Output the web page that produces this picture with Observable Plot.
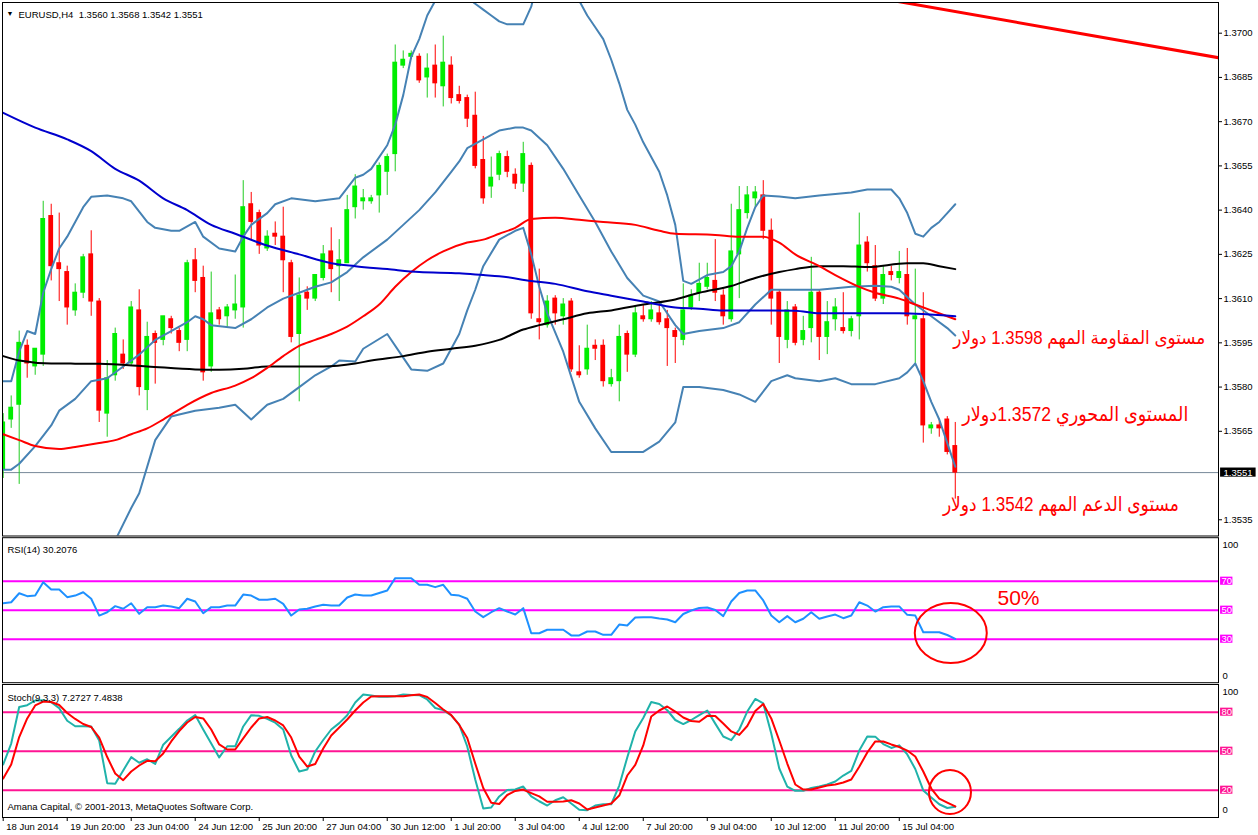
<!DOCTYPE html>
<html><head><meta charset="utf-8">
<script src="https://cdn.jsdelivr.net/npm/d3@7"></script>
<script src="https://cdn.jsdelivr.net/npm/@observablehq/plot@0.6"></script>
<style>
body{margin:0;background:#fff;}
#chart{position:relative;width:1258px;height:835px;background:#fff;overflow:hidden;}
#chart svg{position:absolute;left:0;overflow:visible;max-width:none;}
</style></head><body><div id="chart"></div>
<script>
// ---------- DATA ----------
const title = "EURUSD,H4\u00a0\u00a01.3560 1.3568 1.3542 1.3551";
const rsiTitle = "RSI(14) 30.2076";
const stochTitle = "Stoch(9,3,3) 7.2727 7.4838";
const copyright = "Amana Capital, \u00a9 2001-2013, MetaQuotes Software Corp.";

const open  = [1.3552,1.3569,1.3574,1.3594,1.3587,1.3591,1.3638,1.3622,1.3619,1.3606,
 1.3612,1.3625,1.3609,1.3571,1.3584,1.3591,1.3588,1.3606,1.3579,1.3598,
 1.3596,1.3603,1.3599,1.3596,1.3623,1.3617,1.3587,1.3606,1.3604,1.3606,
 1.3607,1.3642,1.3639,1.3627,1.3632,1.3631,1.3622,1.3598,1.3612,1.3610,
 1.3617,1.3626,1.3621,1.3622,1.3641,1.3643,1.3643,1.3645,1.3653,1.3659,
 1.3689,1.3692,1.3692,1.3685,1.3689,1.3682,1.3689,1.3679,1.3678,1.3672,
 1.3657,1.3648,1.3652,1.3658,1.3652,1.3649,1.3655,1.3603,1.3601,1.3610,
 1.3604,1.3609,1.3585,1.3586,1.3594,1.3594,1.3581,1.3582,1.3598,1.3591,
 1.3604,1.3603,1.3605,1.3603,1.3599,1.3596,1.3607,1.3612,1.3614,1.3616,
 1.3611,1.3603,1.3625,1.3639,1.3644,1.3645,1.3633,1.3612,1.3596,1.3607,
 1.3596,1.3600,1.3612,1.3597,1.3603,1.3600,1.3599,1.3604,1.3629,1.3621,
 1.3610,1.3619,1.3617,1.3618,1.3603,1.3603,1.3566,1.3567,1.3569,1.3560];
const high  = [1.3571,1.3577,1.3599,1.3596,1.3593,1.3643,1.3642,1.3639,1.3621,1.3615,
 1.3625,1.3633,1.3610,1.3589,1.3600,1.3596,1.3609,1.3613,1.3602,1.3599,
 1.3604,1.3604,1.3600,1.3623,1.3627,1.3621,1.3619,1.3607,1.3608,1.3618,
 1.3650,1.3646,1.3640,1.3633,1.3636,1.3641,1.3623,1.3617,1.3614,1.3618,
 1.3628,1.3634,1.3630,1.3645,1.3652,1.3647,1.3645,1.3656,1.3659,1.3696,
 1.3694,1.3694,1.3693,1.3693,1.3696,1.3699,1.3692,1.3682,1.3679,1.3680,
 1.3665,1.3658,1.3660,1.3660,1.3654,1.3663,1.3656,1.3620,1.3611,1.3611,
 1.3610,1.3610,1.3594,1.3601,1.3596,1.3596,1.3586,1.3601,1.3599,1.3607,
 1.3608,1.3609,1.3609,1.3606,1.3600,1.3615,1.3613,1.3622,1.3622,1.3630,
 1.3613,1.3642,1.3648,1.3648,1.3648,1.3650,1.3637,1.3613,1.3609,1.3608,
 1.3604,1.3624,1.3613,1.3609,1.3610,1.3612,1.3604,1.3639,1.3631,1.3628,
 1.3621,1.3621,1.3626,1.3627,1.3620,1.3612,1.3568,1.3569,1.3570,1.3568];
const low   = [1.3549,1.3566,1.3547,1.3583,1.3584,1.3587,1.3616,1.3609,1.3601,1.3604,
 1.3610,1.3604,1.3568,1.3563,1.3582,1.3586,1.3587,1.3577,1.3572,1.3581,
 1.3594,1.3598,1.3592,1.3592,1.3612,1.3582,1.3585,1.3601,1.3600,1.3603,
 1.3600,1.3630,1.3625,1.3626,1.3628,1.3612,1.3595,1.3575,1.3606,1.3609,
 1.3616,1.3612,1.3609,1.3622,1.3637,1.3640,1.3642,1.3639,1.3645,1.3653,
 1.3688,1.3691,1.3683,1.3678,1.3678,1.3675,1.3676,1.3676,1.3668,1.3654,
 1.3642,1.3644,1.3650,1.3651,1.3647,1.3646,1.3603,1.3596,1.3600,1.3601,
 1.3601,1.3585,1.3583,1.3584,1.3589,1.3580,1.3580,1.3575,1.3585,1.3590,
 1.3602,1.3602,1.3601,1.3587,1.3588,1.3594,1.3606,1.3609,1.3613,1.3609,
 1.3601,1.3602,1.3610,1.3637,1.3641,1.3630,1.3601,1.3588,1.3593,1.3594,
 1.3594,1.3595,1.3589,1.3591,1.3599,1.3598,1.3597,1.3596,1.3619,1.3609,
 1.3608,1.3616,1.3615,1.3601,1.3588,1.3561,1.3564,1.3563,1.3557,1.3542];
const close = [1.3568,1.3573,1.3595,1.3588,1.3593,1.3637,1.3621,1.3620,1.3607,1.3612,
 1.3624,1.3609,1.3572,1.3583,1.3598,1.3588,1.3607,1.3580,1.3597,1.3595,
 1.3604,1.3600,1.3595,1.3622,1.3616,1.3585,1.3605,1.3603,1.3607,1.3608,
 1.3641,1.3636,1.3628,1.3631,1.3631,1.3623,1.3597,1.3611,1.3610,1.3618,
 1.3625,1.3620,1.3623,1.3640,1.3648,1.3644,1.3644,1.3655,1.3658,1.3690,
 1.3691,1.3693,1.3684,1.3688,1.3683,1.3690,1.3678,1.3677,1.3671,1.3655,
 1.3644,1.3651,1.3659,1.3653,1.3649,1.3659,1.3605,1.3602,1.3609,1.3605,
 1.3608,1.3586,1.3584,1.3593,1.3593,1.3582,1.3583,1.3597,1.3591,1.3605,
 1.3603,1.3606,1.3602,1.3600,1.3597,1.3606,1.3611,1.3615,1.3617,1.3612,
 1.3604,1.3626,1.3640,1.3645,1.3646,1.3633,1.3610,1.3597,1.3606,1.3595,
 1.3599,1.3612,1.3597,1.3602,1.3607,1.3599,1.3603,1.3628,1.3622,1.3610,
 1.3618,1.3618,1.3619,1.3604,1.3604,1.3567,1.3567,1.3566,1.3558,1.3551];

// moving averages  [bar, value]
const maBlue = [[0,1.3673],[4,1.3668],[8,1.3664],[11,1.3660],[14,1.3654],[17,1.3650],[20,1.3644],[23,1.3640],[26,1.3635],[29,1.3632],[33,1.3628],[37,1.3625],[41,1.3622],[44,1.3621],[48,1.3620],[52,1.3619],[57,1.36186],[60,1.3618],[62,1.36176],[66,1.3616],[69,1.3615],[73,1.36125],[76,1.3611],[80,1.3609],[84,1.3607],[87,1.36066],[90,1.3606],[96,1.3606],[99,1.36059],[102,1.3605],[112,1.3605],[119,1.3604]];
const maBlack = [[0,1.35905],[2,1.3589],[6,1.3588],[12,1.35879],[18,1.3587],[24,1.3586],[27,1.35859],[30,1.35862],[33,1.3587],[37,1.3587],[40,1.3587],[44,1.3588],[46,1.3589],[50,1.35905],[53,1.3592],[56,1.3593],[59,1.3594],[62,1.3596],[65,1.35995],[67,1.3601],[70,1.3603],[73,1.3605],[76,1.3606],[80,1.3608],[84,1.36097],[87,1.3612],[91,1.36143],[94,1.3617],[97,1.3619],[99,1.3620],[102,1.3621],[105,1.3621],[108,1.36207],[113,1.3622],[115,1.3622],[117,1.3621],[119,1.3620]];
const maRed = [[0,1.3564],[2,1.3562],[4,1.3560],[7,1.3559],[9,1.35597],[12,1.3561],[14,1.3562],[16,1.3564],[18,1.3566],[20,1.3569],[23,1.3574],[26,1.3578],[29,1.35805],[31,1.3583],[33,1.35865],[35,1.35905],[37,1.3594],[39,1.3596],[41,1.3598],[43,1.36005],[45,1.3604],[47,1.3608],[49,1.3614],[51,1.3619],[53,1.3623],[55,1.3626],[58,1.3629],[60,1.3630],[62,1.3632],[64,1.3634],[66,1.3637],[69,1.36374],[72,1.36367],[75,1.3636],[79,1.3635],[82,1.3633],[84,1.3632],[89,1.36316],[92,1.3631],[95,1.3631],[97,1.3629],[99,1.3625],[102,1.3621],[104,1.3618],[107,1.3614],[109,1.3612],[112,1.3610],[114,1.3608],[116,1.3606],[119,1.3603]];

// Bollinger bands [bar, value]
const bbUpper = [[0,1.3582],[1,1.3582],[2,1.3592],[3,1.3599],[4,1.3598],[5,1.3612],[6,1.3620],[7,1.3627],[8,1.3631],[9,1.3636],[10,1.3641],[11,1.36445],[13,1.3645],[15,1.3644],[16,1.3643],[18,1.3636],[19,1.3634],[21,1.3633],[22,1.3633],[24,1.3636],[25,1.3631],[27,1.3627],[29,1.3626],[30,1.3631],[31,1.3635],[33,1.3639],[34,1.3642],[36,1.3644],[39,1.3643],[42,1.3644],[44,1.3651],[45,1.3652],[46,1.3654],[48,1.3662],[49,1.3669],[50,1.3679],[51,1.3692],[52,1.3698],[53,1.3706],[54,1.3711],[55,1.3713],[56,1.3714],[57,1.3713],[58,1.3712],[59,1.3710],[60,1.3708],[61,1.3706],[62,1.3704],[63,1.3703],[65,1.3703],[66,1.3709],[67,1.3720],[68,1.3723],[69,1.3723],[70,1.3721],[71,1.3716],[72,1.3711],[73,1.3706],[74,1.3702],[75,1.3698],[76,1.3691],[77,1.3683],[78,1.3674],[79,1.3669],[80,1.3663],[81,1.3658],[82,1.3653],[83,1.3645],[84,1.3635],[85,1.3616],[86,1.3615],[88,1.3618],[90,1.3619],[91,1.3621],[92,1.3626],[93,1.3634],[94,1.3641],[95,1.3645],[97,1.36446],[99,1.3644],[102,1.3645],[106,1.3646],[108,1.3647],[111,1.3647],[112,1.3644],[113,1.3639],[114,1.3632],[115,1.3631],[116,1.3634],[117,1.3636],[118,1.3639],[119,1.3642]];
const bbMiddle = [[0,1.3552],[1,1.3552],[2,1.3554],[4,1.3560],[6,1.3567],[7,1.3572],[9,1.3576],[11,1.3582],[13,1.3583],[15,1.3587],[17,1.3591],[19,1.3596],[21,1.3599],[23,1.3602],[24,1.3604],[25,1.3603],[26,1.3601],[29,1.3600],[31,1.3603],[33,1.3607],[35,1.3610],[37,1.3612],[39,1.3614],[41,1.36155],[43,1.3619],[45,1.3624],[48,1.3630],[50,1.3635],[52,1.3640],[54,1.3646],[56,1.3653],[57,1.36565],[58,1.3661],[60,1.3664],[62,1.3667],[64,1.3668],[65,1.3668],[66,1.3667],[68,1.3662],[70,1.3654],[72,1.3645],[74,1.3636],[76,1.3626],[78,1.3617],[80,1.3611],[82,1.3609],[84,1.3601],[85,1.3598],[87,1.3599],[90,1.3600],[92,1.3602],[94,1.3608],[96,1.3613],[98,1.3613],[102,1.3613],[106,1.3614],[109,1.36144],[111,1.3614],[112,1.3613],[114,1.3608],[116,1.3604],[118,1.3600],[119,1.35975]];
const bbLower = [[0,1.3522],[3,1.3516],[6,1.3514],[9,1.35168],[12,1.3520],[14,1.3528],[16,1.3539],[17,1.3544],[19,1.3562],[21,1.3570],[22,1.35707],[24,1.3572],[27,1.3573],[29,1.3574],[31,1.3569],[33,1.3574],[35,1.3576],[37,1.3580],[39,1.3584],[41,1.3587],[42,1.3589],[44,1.35887],[45,1.3593],[48,1.3598],[50,1.3590],[51,1.3586],[53,1.35855],[55,1.3588],[57,1.3598],[58,1.3606],[59,1.3613],[60,1.3621],[62,1.3630],[64,1.3633],[65,1.3634],[66,1.3625],[67,1.3614],[68,1.3605],[70,1.3592],[72,1.3575],[74,1.3566],[76,1.3558],[78,1.3558],[80,1.3558],[82,1.35615],[84,1.3568],[85,1.3580],[87,1.3580],[90,1.3579],[92,1.35775],[94,1.3575],[96,1.3582],[98,1.3584],[99,1.3583],[102,1.3582],[104,1.3583],[106,1.3581],[109,1.3581],[112,1.3583],[113,1.3585],[114,1.3588],[115,1.3582],[116,1.3575],[117,1.3569],[118,1.3561],[119,1.3553]];

const trendLine = [[105,1.37140],[152.5,1.36914]];
const bidPrice = 1.3551;
const priceTicks = [1.3700,1.3685,1.3670,1.3655,1.3640,1.3625,1.3610,1.3595,1.3580,1.3565,1.3535];

const annotations = ["مستوى المقاومة المهم 1.3598 دولار", "المستوى المحوري 1.3572دولار", "مستوى الدعم المهم 1.3542 دولار"];
const rsiNote = "50%";

const rsi = [54.8,55.5,61.7,59.7,60.1,69.3,64.3,64.3,59.0,60.1,
 62.4,57.9,46.3,48.6,52.8,51.0,54.8,47.5,52.1,52.1,
 53.2,52.6,51.4,57.9,56.0,47.9,52.1,52.1,53.2,53.2,
 60.8,60.1,57.2,57.2,57.9,54.4,46.3,50.5,51.0,52.6,
 53.7,53.2,53.2,58.8,60.8,60.1,60.1,61.9,63.6,72.1,
 72.1,72.1,67.5,67.5,65.9,67.5,60.6,60.1,57.9,49.1,
 45.2,48.6,51.4,49.1,47.0,51.4,34.1,34.1,36.5,36.5,
 36.5,32.6,32.6,35.3,35.3,33.0,33.0,40.1,39.4,45.0,
 45.2,45.2,44.3,43.6,41.7,47.4,49.8,51.5,51.9,50.1,
 45.9,56.0,61.9,63.6,63.6,56.7,46.3,41.7,45.9,41.7,
 44.1,48.6,44.1,45.7,47.0,44.5,46.3,55.5,53.2,49.1,
 52.1,52.6,52.6,46.8,46.3,34.8,34.8,34.8,32.9,30.21];
const rsiLevels = [70,50,30];

const stochK = [39.8,55.9,84.0,85.4,89.0,89.2,87.7,83.1,73.4,69.2,
 69.2,69.0,58.2,25.4,25.0,35.2,45.4,41.1,43.8,40.2,
 55.0,61.1,67.2,73.6,77.8,66.7,55.9,45.2,53.8,53.8,
 69.0,77.7,77.2,74.9,71.9,66.7,46.7,34.4,35.9,49.8,
 58.6,66.7,71.6,77.7,87.5,93.6,92.8,91.8,91.8,92.2,
 93.6,93.3,93.1,89.8,83.2,81.6,77.5,70.5,53.6,28.2,
 5.9,6.7,15.2,20.2,20.5,22.8,15.2,11.5,8.2,12.3,
 14.6,9.8,5.0,4.6,8.2,9.2,9.2,23.6,45.2,65.2,
 75.5,87.8,86.3,81.5,74.0,70.9,74.0,77.8,81.3,71.2,
 61.3,58.5,66.7,80.5,90.2,86.7,63.6,36.7,22.8,19.5,
 19.5,21.7,22.8,24.4,26.7,31.3,34.8,50.5,61.3,61.2,
 55.5,52.5,54.5,47.5,36.3,19.8,14.4,9.2,6.3,7.27];
const stochD = [29.0,39.8,60.9,75.2,85.2,88.2,87.8,85.5,79.4,74.8,
 70.9,68.6,60.5,45.5,32.8,27.7,34.4,39.0,42.6,42.3,
 48.2,57.5,65.5,72.1,76.3,75.2,66.7,55.2,51.3,51.3,
 59.8,68.2,75.2,76.3,73.6,69.8,60.5,45.9,38.2,40.2,
 52.1,62.1,68.2,74.4,81.3,87.5,92.1,92.3,92.3,92.3,
 92.3,93.1,93.6,91.7,87.1,82.1,77.8,70.2,60.2,40.5,
 21.7,10.3,9.4,16.3,19.4,20.5,17.8,15.2,11.1,11.1,
 11.3,12.3,9.8,5.2,6.7,8.2,9.8,15.9,31.3,39.4,
 54.4,76.7,81.3,84.4,80.5,75.9,73.2,72.6,77.2,77.1,
 71.3,65.2,62.5,69.4,80.9,86.3,75.2,58.2,40.5,24.4,
 20.5,20.5,22.1,23.6,24.4,25.9,28.2,38.0,49.0,57.5,
 57.5,55.2,53.2,50.5,45.9,34.4,21.3,13.6,10.5,7.48];
const stochLevels = [80,50,20];

const timeLabels = ["18 Jun 2014","19 Jun 20:00","23 Jun 04:00","24 Jun 12:00","25 Jun 20:00","27 Jun 04:00","30 Jun 12:00","1 Jul 20:00","3 Jul 04:00","4 Jul 12:00","7 Jul 20:00","9 Jul 04:00","10 Jul 12:00","11 Jul 20:00","15 Jul 04:00"];
const timeLabelBars = [0,8,16,24,32,40,48,56,64,72,80,88,96,104,112];

// ---------- CHART ----------
const FONT = "'Liberation Sans', Arial, Helvetica, sans-serif";
const AFONT = "Arial, 'Liberation Sans', 'DejaVu Sans', sans-serif";
const xDomain = [-0.0875, 151.9];
const xRight = 151.9;        // right edge of the plotting area (bar units)
const boxL = 152.16, boxR = 153.7;
const candles = open.map((o, i) => ({i, o, h: high[i], l: low[i], c: close[i]}));
const UP_BODY = "#00ee00", UP_WICK = "#22cc22", DN = "#ff0000";
const STEEL = "#4682b4";
const annotationWidths = [252, 226, 236];   // rendered text widths in the reference (px)
const annotationSizes = [18.5, 20, 20];

const base = (height, mt, mb, yDomain) => ({
  width: 1258, height, marginTop: mt, marginBottom: mb, marginLeft: 2, marginRight: 40,
  x: {type: "linear", domain: xDomain, axis: null},
  y: {type: "linear", domain: yDomain, axis: null},
  color: {type: "identity"},
  style: {background: "transparent", fontFamily: FONT, fontSize: "9.5px", color: "black", overflow: "visible"}
});
const pline = (data, stroke, w, curve = "linear") =>
  Plot.line(data, {x: d => d[0], y: d => d[1], stroke, strokeWidth: w, curve, clip: true});

function ellipseMark(cx, cy, rx, ry) {
  return (index, scales) => {
    const e = document.createElementNS("http://www.w3.org/2000/svg", "ellipse");
    e.setAttribute("cx", scales.x(cx)); e.setAttribute("cy", scales.y(cy));
    e.setAttribute("rx", rx); e.setAttribute("ry", ry);
    e.setAttribute("fill", "none"); e.setAttribute("stroke", "#ff0000"); e.setAttribute("stroke-width", 2);
    return e;
  };
}

const mainPlot = Plot.plot({
  ...base(537, 2, 1.5, [1.35295, 1.371041]),
  marks: [
    Plot.ruleY([bidPrice], {stroke: "#778899", strokeWidth: 1}),
    Plot.ruleX(candles, {x: "i", y1: "l", y2: "h", stroke: d => d.c >= d.o ? UP_WICK : DN, strokeWidth: 1, clip: true}),
    Plot.rect(candles, {x1: d => d.i - 0.3, x2: d => d.i + 0.3, y1: "o", y2: "c", fill: d => d.c >= d.o ? UP_BODY : DN, insetTop: -0.5, insetBottom: -0.5, clip: true}),
    pline(bbUpper, STEEL, 2), pline(bbMiddle, STEEL, 2), pline(bbLower, STEEL, 2),
    pline(maBlack, "#000000", 2, "monotone-x"),
    pline(maRed, "#ff0000", 2, "monotone-x"),
    pline(maBlue, "#0000cd", 2, "monotone-x"),
    pline(trendLine, "#ff0000", 3),
    Plot.frame({stroke: "black"}),
    Plot.ruleY(priceTicks, {x1: xRight, x2: xRight + 0.5, stroke: "black"}),
    Plot.text(priceTicks, {x: xRight, y: d => d, dx: 5, textAnchor: "start", text: d => d.toFixed(4), fill: "black"}),
    Plot.rect([bidPrice], {x1: boxL, x2: 156.6, y1: d => d - 0.000155, y2: d => d + 0.000155, fill: "black"}),
    Plot.text([bidPrice], {x: boxL, y: d => d, dx: 3, textAnchor: "start", text: d => d.toFixed(4), fill: "white"}),
    Plot.text(["\u25BC"], {frameAnchor: "top-left", dx: 4, dy: 9, textAnchor: "start", fontSize: 7, fill: "black"}),
    Plot.text([title], {frameAnchor: "top-left", dx: 16, dy: 9, textAnchor: "start", fill: "black"}),
    Plot.text([annotations[0]], {x: 134.5, y: 1.35965, text: d => d, fill: "#ff0000", fontSize: annotationSizes[0], fontFamily: AFONT}),
    Plot.text([annotations[1]], {x: 134.0, y: 1.35707, text: d => d, fill: "#ff0000", fontSize: annotationSizes[1], fontFamily: AFONT}),
    Plot.text([annotations[2]], {x: 132.2, y: 1.35402, text: d => d, fill: "#ff0000", fontSize: annotationSizes[2], fontFamily: AFONT})
  ]
});

// fit the Arabic annotations to the reference widths (fallback Arabic font is wider)
mainPlot.querySelectorAll("text").forEach(t => {
  const k = annotations.indexOf(t.textContent);
  if (k >= 0) {
    t.setAttribute("textLength", annotationWidths[k]);
    t.setAttribute("lengthAdjust", "spacingAndGlyphs");
  }
});

const rsiPlot = Plot.plot({
  ...base(148, 1.2, 1.8, [0, 100]),
  marks: [
    Plot.ruleY(rsiLevels, {stroke: "#ff00ff", strokeWidth: 2}),
    Plot.line(rsi, {x: (d, i) => i, y: d => d, stroke: "#1e90ff", strokeWidth: 2}),
    ellipseMark(118.5, 33.9, 36, 30),
    Plot.text([rsiNote], {x: 126.9, y: 58.1, text: d => d, fill: "#ff0000", fontSize: 21, fontFamily: AFONT}),
    Plot.frame({stroke: "black"}),
    Plot.text([rsiTitle], {frameAnchor: "top-left", dx: 5, dy: 9, textAnchor: "start", fill: "black"}),
    Plot.rect(rsiLevels, {x1: boxL, x2: boxR, y1: d => d - 2.8, y2: d => d + 2.8, fill: "#ff00ff"}),
    Plot.text(rsiLevels, {x: boxL, y: d => d, dx: 1, textAnchor: "start", text: d => String(d), fill: "white"}),
    Plot.text([100], {x: xRight, y: d => d, dx: 4, dy: 7, textAnchor: "start", text: d => String(d), fill: "black"}),
    Plot.text([0], {x: xRight, y: d => d, dx: 4, dy: -7, textAnchor: "start", text: d => String(d), fill: "black"})
  ]
});

const stochPlot = Plot.plot({
  ...base(152, 1, 18, [-1.0, 101.3]),
  marks: [
    Plot.ruleY(stochLevels, {stroke: "#ff1493", strokeWidth: 2}),
    Plot.line(stochK, {x: (d, i) => i, y: d => d, stroke: "#20b2aa", strokeWidth: 2}),
    Plot.line(stochD, {x: (d, i) => i, y: d => d, stroke: "#ff0000", strokeWidth: 2}),
    ellipseMark(118.4, 18.2, 21, 22),
    Plot.frame({stroke: "black"}),
    Plot.text([stochTitle], {frameAnchor: "top-left", dx: 5, dy: 10, textAnchor: "start", fill: "black"}),
    Plot.text([copyright], {frameAnchor: "bottom-left", dx: 5, dy: -8, textAnchor: "start", fill: "black"}),
    Plot.rect(stochLevels, {x1: boxL, x2: boxR, y1: d => d - 3.1, y2: d => d + 3.1, fill: "#ff1493"}),
    Plot.text(stochLevels, {x: boxL, y: d => d, dx: 1, textAnchor: "start", text: d => String(d), fill: "white"}),
    Plot.text([100], {x: xRight, y: d => d, dx: 4, dy: 5.5, textAnchor: "start", text: d => String(d), fill: "black"}),
    Plot.text([0], {x: xRight, y: d => d, dx: 4, dy: -6, textAnchor: "start", text: d => String(d), fill: "black"}),
    Plot.ruleX(timeLabelBars, {x: d => d, y1: -1.0, y2: -4.1, stroke: "black"}),
    Plot.text(timeLabels, {x: (d, i) => timeLabelBars[i], y: -1.0, dx: 3, dy: 9.5, textAnchor: "start", text: d => d, fill: "black"})
  ]
});

const chart = document.getElementById("chart");
mainPlot.style.top = "0px";
rsiPlot.style.top = "536px";
stochPlot.style.top = "683px";
chart.append(mainPlot, rsiPlot, stochPlot);
</script></body></html>
